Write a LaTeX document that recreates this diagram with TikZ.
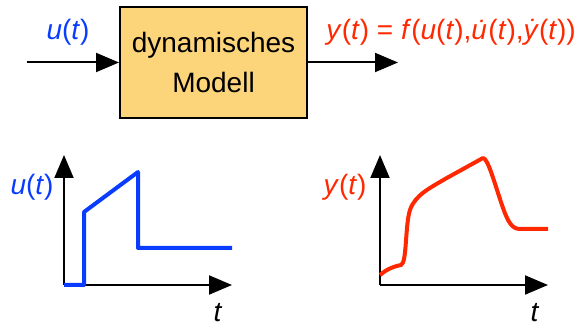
\documentclass[tikz,border=0pt]{standalone}
\usepackage{fontspec}
\setmainfont{Liberation Sans}
\usetikzlibrary{positioning, arrows.meta}
\definecolor{sigblue}{RGB}{10,60,255}
\definecolor{sigred}{RGB}{255,40,0}
\definecolor{boxfill}{RGB}{252,212,122}
\newcommand{\vr}[1]{\textit{#1}}

\begin{document}
\begin{tikzpicture}[
    x=0.5pt, y=-0.5pt,
    box/.style={draw, line width=1pt, fill=boxfill, rectangle, minimum width=93.5pt, minimum height=55.5pt, align=center, font=\fontsize{14}{20}\selectfont},
    arrow/.style={-{Triangle[length=11.5pt, width=9.5pt]}, line width=1pt},
    lbl/.style={font=\fontsize{14}{17}\selectfont, inner sep=0pt},
    signal/.style={line width=2pt, line join=round}
]
\useasboundingbox (0,0) rectangle (578,325);

% Model
\node[box] (model) at (213.5,62.5) {dynamisches\\Modell};

% Input / output
\coordinate (in) at (27,62.5);
\coordinate (out) at (398,62.5);
\draw[arrow] (in) -- (model);
\draw[arrow] (model) -- (out);
\node[lbl, text=sigblue] (ulabel) at (68,32) {\vr{u}(\vr{t})};
\node[lbl, text=sigred, anchor=west] (ylabel) at (326,32) {\vr{y}(\vr{t}) = \vr{f}(\vr{u}(\vr{t}),\vr{\.{u}}(\vr{t}),\vr{\.{y}}(\vr{t}))};

% Input signal
\coordinate (uo) at (64,285);
\coordinate (ux) at (232,285);
\coordinate (uy) at (64,155);
\draw[arrow] (uo) -- (ux);
\draw[arrow] (uo) -- (uy);
\node[lbl, text=sigblue] (uaxis) at (32,187) {\vr{u}(\vr{t})};
\node[lbl] (ut) at (218,313) {\vr{t}};
\draw[signal, sigblue] (uo) -- (84,285) -- (84,212) -- (138,172) -- (138,248) -- (232,248);

% Output signal
\coordinate (yo) at (380,285);
\coordinate (yx) at (548,285);
\coordinate (yy) at (380,155);
\draw[arrow] (yo) -- (yx);
\draw[arrow] (yo) -- (yy);
\node[lbl, text=sigred] (yaxis) at (345,187) {\vr{y}(\vr{t})};
\node[lbl] (yt) at (535,313) {\vr{t}};
\draw[signal, sigred] (380,275) .. controls (388,268) and (396,266) .. (401,265)
    .. controls (407,263) and (405,225) .. (410,210)
    .. controls (415,195) and (430,188) .. (445,179)
    -- (483,158)
    .. controls (488,158) and (495,185) .. (503,208)
    .. controls (508,222) and (512,229) .. (520,229) -- (548,229);

\end{tikzpicture}
\end{document}
